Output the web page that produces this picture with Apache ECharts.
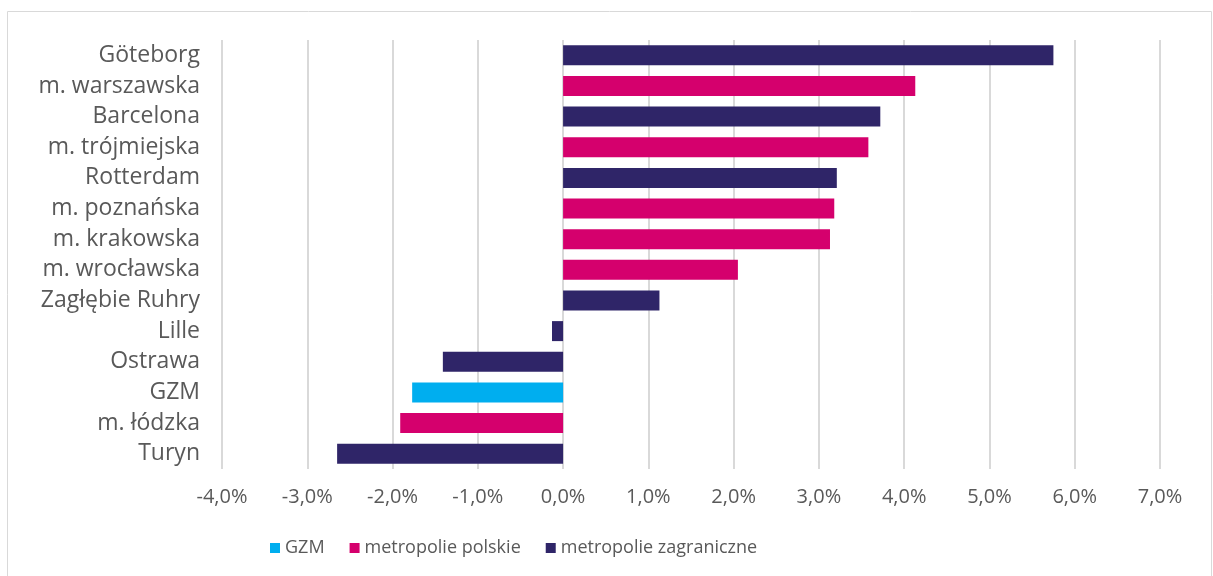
<!DOCTYPE html>
<html><head><meta charset="utf-8">
<script src="https://cdn.jsdelivr.net/npm/echarts@6/dist/echarts.min.js"></script>
<style>html,body{margin:0;padding:0;background:#fff}#c{width:1213px;height:576px}</style>
</head><body><div id="c"></div>
<script>
const categories = ["Göteborg","m. warszawska","Barcelona","m. trójmiejska","Rotterdam","m. poznańska","m. krakowska","m. wrocławska","Zagłębie Ruhry","Lille","Ostrawa","GZM","m. łódzka","Turyn"];
const gzm       = [null,null,null,null,null,null,null,null,null,null,null,-1.77,null,null];
const polskie   = [null,4.13,null,3.58,null,3.18,3.13,2.05,null,null,null,null,-1.91,null];
const zagraniczne = [5.75,null,3.72,null,3.21,null,null,null,1.13,-0.13,-1.41,null,null,-2.65];
const seriesNames = ["GZM","metropolie polskie","metropolie zagraniczne"];
const colors = ["#00AEEF","#D5006D","#2F2568"];

const font = "Open Sans";
const chart = echarts.init(document.getElementById('c'));
const mk = (name, data, color) => ({
  name, type:'bar', stack:'a', data: data.map(v => v === null ? '-' : v),
  barWidth: 20, itemStyle:{color}, emphasis:{disabled:true}
});
chart.setOption({
  animation:false,
  textStyle:{fontFamily:font},
  graphic:[{type:'rect', shape:{x:7.5,y:11.5,width:1204,height:580}, style:{fill:'none',stroke:'#d9d9d9',lineWidth:1}}],
  grid:{left:222, right:53, top:40, bottom:107, containLabel:false},
  xAxis:{type:'value', min:-4, max:7, interval:1,
    axisLine:{show:false}, axisTick:{show:false},
    splitLine:{show:true, lineStyle:{color:'#d9d9d9', width:2}},
    axisLabel:{color:'#595959', fontSize:20, margin:18, fontFamily:font,
      formatter:v => v.toFixed(1).replace('.',',')+'%'}},
  yAxis:{type:'category', data:categories, inverse:true,
    axisLine:{show:false}, axisTick:{show:false},
    axisLabel:{color:'#595959', fontSize:23, margin:22, interval:0, fontFamily:font}},
  legend:{top:539, left:270, padding:0, itemWidth:10, itemHeight:10, icon:'rect', itemGap:25,
    textStyle:{color:'#595959', fontSize:18, fontFamily:font}, data:seriesNames},
  series:[mk(seriesNames[0], gzm, colors[0]), mk(seriesNames[1], polskie, colors[1]), mk(seriesNames[2], zagraniczne, colors[2])]
});
</script></body></html>
